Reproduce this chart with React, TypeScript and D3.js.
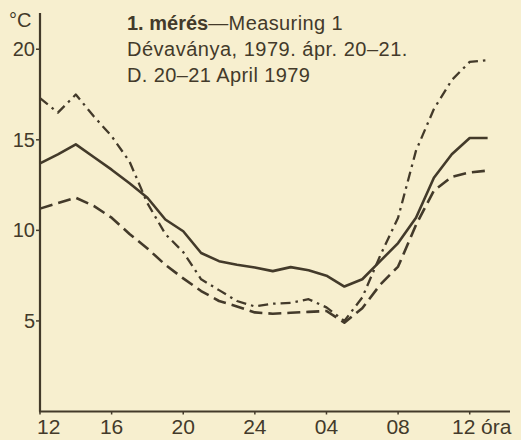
import React from "react";
import * as d3 from "d3";

// hours from 12:00 on 20 April to 13:00 on 21 April
const hours = [12, 13, 14, 15, 16, 17, 18, 19, 20, 21, 22, 23, 24, 25, 26, 27, 28, 29, 30, 31, 32, 33, 34, 35, 36, 37];
const solidSeries = [13.7, 14.2, 14.75, 14.05, 13.35, 12.6, 11.8, 10.6, 9.95, 8.75, 8.3, 8.1, 7.95, 7.75, 7.97, 7.8, 7.5, 6.9, 7.3, 8.3, 9.3, 10.7, 12.9, 14.2, 15.1, 15.1];
const dashedSeries = [11.2, 11.5, 11.8, 11.35, 10.7, 9.8, 9.0, 8.1, 7.35, 6.65, 6.1, 5.8, 5.47, 5.4, 5.45, 5.5, 5.55, 4.9, 5.7, 7.0, 8.0, 10.3, 12.2, 12.95, 13.2, 13.3];
const dashDotSeries = [17.3, 16.5, 17.5, 16.3, 15.2, 13.8, 11.5, 9.8, 8.8, 7.3, 6.7, 6.1, 5.8, 5.95, 6.0, 6.2, 5.75, 5.0, 6.3, 8.6, 10.7, 14.4, 16.7, 18.3, 19.3, 19.4];

const xTickValues = [12, 16, 20, 24, 28, 32, 36];
const xTickLabels = ["12", "16", "20", "24", "04", "08", "12"];
const yTickValues = [5, 10, 15, 20];

const titleBold = "1. mérés";
const titleRest = "—Measuring 1";
const subtitle1 = "Dévaványa, 1979. ápr. 20–21.";
const subtitle2 = "D. 20–21 April 1979";
const yUnit = "°C";
const xUnit = "óra";

const W = 521;
const H = 440;
const BG = "#f7efcf";
const INK = "#433a2a";
const FONT = "'Liberation Sans', Arial, sans-serif";

export default function App() {
  const x = d3.scaleLinear().domain([12, 38.25]).range([40, 510]);
  const y = d3.scaleLinear().domain([0, 22]).range([411.5, 13]);

  const line = d3
    .line<number>()
    .x((_, i) => x(hours[i]))
    .y((d) => y(d))
    .curve(d3.curveLinear);

  const series = [
    { values: solidSeries, dash: "none", width: 2.6 },
    { values: dashedSeries, dash: "13 6", width: 2.6 },
    { values: dashDotSeries, dash: "10 5 2.5 5", width: 2.3 },
  ];

  return (
    <div style={{ position: "fixed", left: 0, top: 0, width: W, height: H, background: BG }}>
      <svg width={W} height={H} style={{ display: "block" }}>
        <rect x={0} y={0} width={W} height={H} fill={BG} />
        {/* axes */}
        <line x1={x(12)} x2={x(12)} y1={y(22)} y2={y(0)} stroke={INK} strokeWidth={2.2} />
        <line x1={x(12) - 1} x2={x(38.25)} y1={y(0)} y2={y(0)} stroke={INK} strokeWidth={2.2} />
        {yTickValues.map((v) => (
          <g key={"y" + v}>
            <line x1={x(12) - 4} x2={x(12)} y1={y(v)} y2={y(v)} stroke={INK} strokeWidth={1.5} />
            <text x={x(12) - 5} y={y(v) + 7} textAnchor="end" fontSize={20} fontFamily={FONT} fill={INK}>
              {v}
            </text>
          </g>
        ))}
        {xTickValues.map((v, i) => (
          <g key={"x" + v + i}>
            <line x1={x(v)} x2={x(v)} y1={y(0)} y2={y(0) + 3} stroke={INK} strokeWidth={1.5} />
            <text
              x={i === 0 ? x(v) - 3 : x(v) - (i === xTickValues.length - 1 ? 6 : 0)}
              y={434}
              textAnchor={i === 0 ? "start" : "middle"}
              fontSize={21}
              fontFamily={FONT}
              fill={INK}
            >
              {xTickLabels[i]}
            </text>
          </g>
        ))}
        <text x={481} y={434} fontSize={21} fontFamily={FONT} fill={INK}>
          {xUnit}
        </text>
        <text x={9} y={27} fontSize={20} fontFamily={FONT} fill={INK}>
          {yUnit}
        </text>
        {/* title */}
        <text x={127} y={29.5} fontSize={20} fontFamily={FONT} fill={INK}>
          <tspan fontWeight="bold">{titleBold}</tspan>
          <tspan letterSpacing={0.4}>{titleRest}</tspan>
        </text>
        <text x={127} y={56} fontSize={20} fontFamily={FONT} fill={INK} letterSpacing={0.5}>
          {subtitle1}
        </text>
        <text x={127} y={82} fontSize={20} fontFamily={FONT} fill={INK} letterSpacing={0.4}>
          {subtitle2}
        </text>
        {/* series */}
        {series.map((s, k) => (
          <path
            key={k}
            d={line(s.values) || ""}
            fill="none"
            stroke={INK}
            strokeWidth={s.width}
            strokeDasharray={s.dash}
            strokeLinejoin="round"
          />
        ))}
      </svg>
    </div>
  );
}
